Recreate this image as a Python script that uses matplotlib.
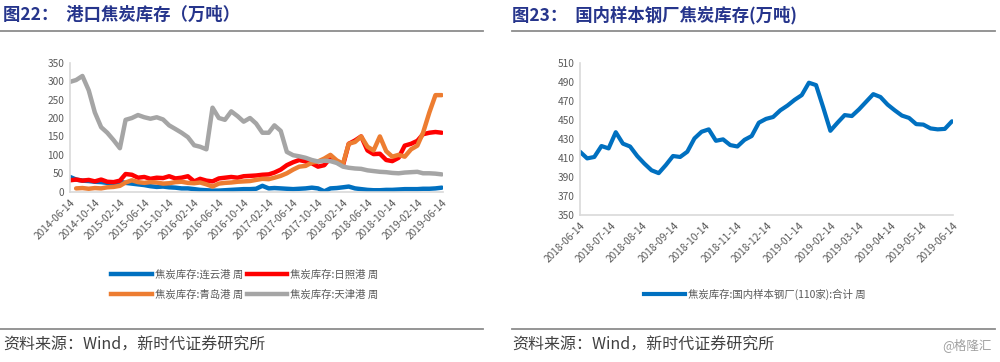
import numpy as np
import pandas as pd
import matplotlib
matplotlib.use('Agg')
from matplotlib import pyplot as plt
from matplotlib.lines import Line2D

plt.rcParams['font.family'] = ['Noto Sans CJK SC', 'DejaVu Sans']

# 图22 港口焦炭库存（万吨），月度读数 2014-06-14 ~ 2019-06-14
port_dates = pd.date_range('2014-06-14', periods=61, freq=pd.DateOffset(months=1))
lianyungang = [40, 33, 30, 29, 27, 26, 24, 22, 27, 24, 22, 20, 18, 15, 13, 14, 12, 11, 9, 9,
               7, 5, 4, 3, 3, 4, 5, 6, 7, 7, 8, 16, 9, 10, 9, 8, 7, 8, 9, 11,
               9, 1, 9, 10, 12, 14, 9, 7, 5, 4, 4, 5, 5, 6, 7, 7, 7, 8, 8, 9, 11]
rizhao = [31, 33, 30, 32, 28, 33, 27, 26, 30, 48, 46, 38, 40, 35, 38, 37, 42, 36, 38, 42,
          28, 35, 30, 28, 36, 38, 40, 38, 42, 43, 44, 46, 47, 52, 60, 72, 80, 86, 82, 77,
          68, 72, 92, 80, 72, 130, 139, 150, 112, 102, 103, 86, 83, 92, 125, 130, 138, 156, 160, 162, 160]
qingdao = [np.nan, 9, 10, 8, 10, 9, 12, 13, 16, 25, 31, 26, 24, 26, 25, 22, 23, 26, 27, 24,
           23, 25, 20, 14, 22, 24, 25, 27, 28, 29, 32, 35, 34, 38, 43, 50, 60, 68, 70, 79,
           82, 90, 100, 85, 76, 130, 135, 150, 122, 112, 150, 110, 95, 100, 95, 115, 125, 160, 215, 262, 262]
tianjin = [298, 303, 314, 275, 215, 175, 160, 140, 118, 195, 200, 208, 202, 198, 202, 196, 180, 170, 160, 148,
           126, 122, 115, 228, 200, 195, 218, 205, 190, 200, 185, 160, 160, 180, 165, 108, 99, 96, 92, 86,
           82, 84, 83, 78, 68, 65, 63, 62, 58, 56, 54, 53, 51, 50, 52, 53, 54, 50, 50, 49, 47]
port_names = ['焦炭库存:连云港 周', '焦炭库存:日照港 周', '焦炭库存:青岛港 周', '焦炭库存:天津港 周']
port_colors = ['#0070C0', '#FF0000', '#ED7D31', '#A5A5A5']

# 图23 国内样本钢厂焦炭库存（万吨），周度
mill_dates = pd.date_range('2018-06-14', periods=53, freq='7D')
mill_stock = [416.5, 409.5, 411, 422.5, 420, 437, 425, 422, 412, 404, 397, 394, 402.5, 412, 411,
              416.5, 430.5, 437.5, 440, 428, 429.5, 423.5, 422, 429, 433, 447, 451, 453, 460, 465,
              471, 476, 489, 486.5, 463, 438.5, 447, 455, 454, 461, 469, 477, 474, 466, 460,
              454.5, 452, 445.5, 445, 441, 440, 440.5, 448.5]
mill_name = '焦炭库存:国内样本钢厂(110家):合计 周'

title_color = '#26358C'
tick_color = '#595959'
axis_color = '#D9D9D9'

fig = plt.figure(figsize=(10, 3.62), dpi=100)


def style_axes(ax):
    for s in ['top', 'right']:
        ax.spines[s].set_visible(False)
    for s in ['left', 'bottom']:
        ax.spines[s].set_color(axis_color)
        ax.spines[s].set_linewidth(1.2)
    ax.tick_params(axis='both', length=0, labelsize=7.3, colors=tick_color, pad=4)


# 左图
ax1 = fig.add_axes([0.070, 0.4704, 0.373, 0.3564])
series = [lianyungang, rizhao, qingdao, tianjin]
for vals, c in zip(series, port_colors):
    ax1.plot(port_dates, vals, color=c, lw=3.2, solid_capstyle='round')
ax1.set_ylim(0, 350)
ax1.set_yticks(np.arange(0, 351, 50))
ax1.set_xlim(pd.Timestamp('2014-06-14'), pd.Timestamp('2019-06-20'))
ticks1 = pd.date_range('2014-06-14', '2019-06-14', freq=pd.DateOffset(months=4))
ax1.set_xticks(ticks1)
ax1.set_xticklabels([d.strftime('%Y-%m-%d') for d in ticks1], rotation=45,
                    ha='right', rotation_mode='anchor')
style_axes(ax1)

# 图例按行排列：第一行 连云港、日照港；第二行 青岛港、天津港
order = [0, 2, 1, 3]
handles = [Line2D([], [], color=port_colors[i], lw=3.2) for i in order]
fig.legend(handles, [port_names[i] for i in order], loc='center',
           bbox_to_anchor=(0.245, 0.214), ncol=2,
           frameon=False, fontsize=7.5, handlelength=3.9, handletextpad=0.3,
           columnspacing=0.3, labelspacing=0.85, labelcolor=tick_color)

# 右图
ax2 = fig.add_axes([0.580, 0.406, 0.373, 0.4207])
ax2.plot(mill_dates, mill_stock, color='#0070C0', lw=3.0, solid_capstyle='round')
ax2.set_ylim(350, 510)
ax2.set_yticks(np.arange(350, 511, 20))
ax2.set_xlim(pd.Timestamp('2018-06-14'), pd.Timestamp('2019-06-14'))
ticks2 = pd.date_range('2018-06-14', '2019-06-14', freq=pd.DateOffset(months=1))
ax2.set_xticks(ticks2)
ax2.set_xticklabels([d.strftime('%Y-%m-%d') for d in ticks2], rotation=45,
                    ha='right', rotation_mode='anchor')
style_axes(ax2)

fig.legend([Line2D([], [], color='#0070C0', lw=3.0)], [mill_name], loc='center',
           bbox_to_anchor=(0.755, 0.188), frameon=False, fontsize=7.5,
           handlelength=3.9, handletextpad=0.3, labelcolor=tick_color)

# 标题与分隔线
fig.text(0.003, 0.958, '图22：  港口焦炭库存（万吨）', fontsize=12.5, fontweight='bold',
         color=title_color, va='center')
fig.text(0.512, 0.958, '图23：  国内样本钢厂焦炭库存(万吨)', fontsize=12.5, fontweight='bold',
         color=title_color, va='center')
for x0, x1 in [(0.0, 0.483), (0.512, 0.995)]:
    fig.add_artist(Line2D([x0, x1], [1 - 31 / 362] * 2, color='#8C8C8C', lw=1.3))
    fig.add_artist(Line2D([x0, x1], [1 - 328.5 / 362] * 2, color='#8C8C8C', lw=1.3))

fig.text(0.003, 1 - 345 / 362, '资料来源：Wind，新时代证券研究所', fontsize=11.5,
         color='#404040', va='center')
fig.text(0.512, 1 - 345 / 362, '资料来源：Wind，新时代证券研究所', fontsize=11.5,
         color='#404040', va='center')
fig.text(0.992, 1 - 345 / 362, '@格隆汇', fontsize=9, color='#A0A0A0', va='center', ha='right')

fig.savefig('out.png', dpi=100)
